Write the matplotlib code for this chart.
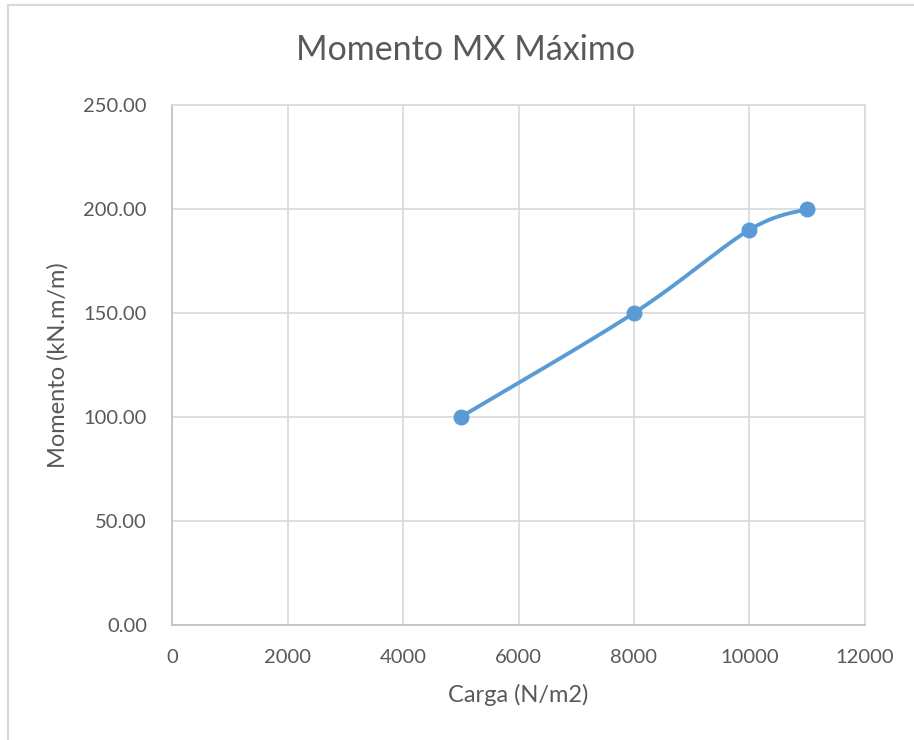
import numpy as np
import matplotlib
matplotlib.use("Agg")
import matplotlib.pyplot as plt
from matplotlib.lines import Line2D

# Data
carga = [5000, 8000, 10000, 11000]
momento = [100.0, 150.0, 190.0, 200.0]
x_ticks = [0, 2000, 4000, 6000, 8000, 10000, 12000]
y_ticks = [0, 50, 100, 150, 200, 250]

title = "Momento MX Máximo"
x_label = "Carga (N/m2)"
y_label = "Momento (kN.m/m)"

LINE = "#5b9bd5"
TEXT = "#595959"
GRID = "#d9d9d9"

plt.rcParams["font.family"] = ["Lato", "DejaVu Sans"]


def smooth_curve(xs, ys, n=60):
    """Cubic Bezier smoothing through every point (Catmull-Rom style)."""
    pts = np.column_stack([xs, ys]).astype(float)
    ext = np.vstack([pts[0], pts, pts[-1]])
    t = np.linspace(0, 1, n)[:, None]
    out = []
    for i in range(len(pts) - 1):
        p0 = ext[i + 1]
        p3 = ext[i + 2]
        c1 = p0 + (ext[i + 2] - ext[i]) / 6.0
        c2 = p3 - (ext[i + 3] - ext[i + 1]) / 6.0
        seg = ((1 - t) ** 3) * p0 + 3 * ((1 - t) ** 2) * t * c1 \
            + 3 * (1 - t) * t ** 2 * c2 + t ** 3 * p3
        out.append(seg if i == 0 else seg[1:])
    curve = np.vstack(out)
    return curve[:, 0], curve[:, 1]


fig = plt.figure(figsize=(9.14, 7.40), dpi=100)
ax = fig.add_axes([172 / 914, 1 - 625 / 740, (865 - 172) / 914, (625 - 105) / 740])

sx, sy = smooth_curve(carga, momento)
ax.plot(sx, sy, color=LINE, lw=2.8, solid_capstyle="round", zorder=3)
ax.plot(carga, momento, "o", color=LINE, ms=10.5, zorder=4)

ax.set_xlim(0, 12000)
ax.set_ylim(0, 250)
ax.set_xticks(x_ticks)
ax.set_yticks(y_ticks)
ax.set_xticklabels([str(v) for v in x_ticks])
ax.set_yticklabels([f"{v:.2f}" for v in y_ticks])
ax.tick_params(length=0, labelsize=14.5, colors=TEXT)
ax.tick_params(axis="x", pad=17)
ax.tick_params(axis="y", pad=18)
ax.grid(True, color=GRID, lw=1.2)
ax.set_axisbelow(True)
for s in ax.spines.values():
    s.set_color(GRID)
    s.set_linewidth(1.2)
ax.spines["left"].set_color("#bfbfbf")
ax.spines["bottom"].set_color("#bfbfbf")

ax.set_xlabel(x_label, fontsize=17, color=TEXT, labelpad=13)
ax.set_ylabel(y_label, fontsize=17, color=TEXT, labelpad=11)
fig.text(0.5 * (296 + 636) / 914, 1 - 50 / 740, title, fontsize=24.5,
         color=TEXT, ha="center", va="center")

# Chart area border
fig.add_artist(Line2D([8 / 914, 8 / 914], [0, 1 - 5 / 740], color=GRID, lw=1.5,
                      transform=fig.transFigure))
fig.add_artist(Line2D([8 / 914, 1], [1 - 5 / 740, 1 - 5 / 740], color=GRID, lw=1.5,
                      transform=fig.transFigure))

fig.savefig("out.png", dpi=100)
